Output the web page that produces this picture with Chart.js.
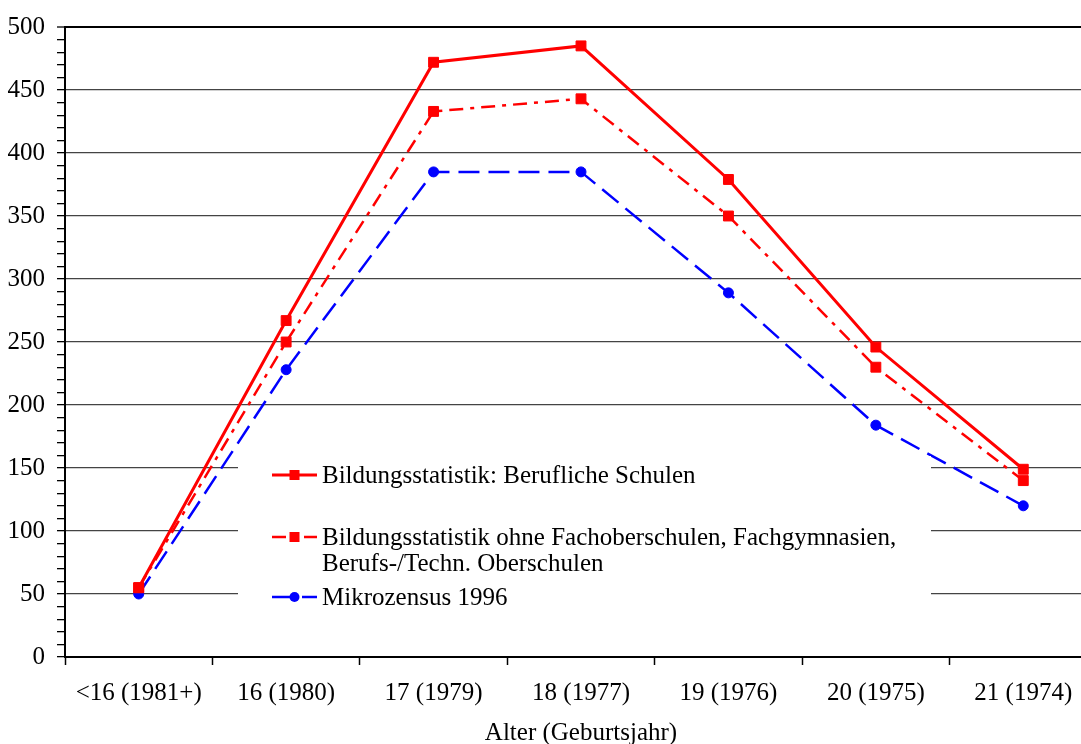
<!DOCTYPE html>
<html>
<head>
<meta charset="utf-8">
<script src="https://cdn.jsdelivr.net/npm/chart.js@4.4.1/dist/chart.umd.min.js"></script>
<style>
    html, body { margin: 0; padding: 0; overflow: hidden; background: #fff; }
    #wrap { width: 1105px; height: 744px; }
</style>
</head>
<body>
<div id="wrap"><canvas id="chart" width="1105" height="744"></canvas></div>
<script>
// Daten
const categories = ['<16 (1981+)', '16 (1980)', '17 (1979)', '18 (1977)', '19 (1976)', '20 (1975)', '21 (1974)'];
const berufSchulen = [55, 267, 472, 485, 379, 246, 149];
const ohneFOS = [55, 250, 433, 443, 350, 230, 140];
const mikrozensus = [50, 228, 385, 385, 289, 184, 120];
const seriesNames = [
    ['Bildungsstatistik: Berufliche Schulen'],
    ['Bildungsstatistik ohne Fachoberschulen, Fachgymnasien,', 'Berufs-/Techn. Oberschulen'],
    ['Mikrozensus 1996']
];
const yTicks = [0, 50, 100, 150, 200, 250, 300, 350, 400, 450, 500];

const FONT = "'Liberation Serif', 'Times New Roman', serif";
Chart.defaults.font.family = FONT;
Chart.defaults.font.size = 25;
Chart.defaults.color = '#000';

// Legende im Diagramm mit weissem Hintergrund
const innerLegend = {
    id: 'innerLegend',
    afterDatasetsDraw(chart) {
        const ctx = chart.ctx;
        ctx.save();
        ctx.fillStyle = '#fff';
        ctx.fillRect(238, 456, 693, 150);
        const rows = [475, 537, 597];
        chart.data.datasets.forEach((ds, i) => {
            const y = rows[i];
            ctx.strokeStyle = ds.borderColor;
            ctx.lineWidth = ds.borderWidth;
            ctx.setLineDash(ds.borderDash || []);
            ctx.beginPath();
            ctx.moveTo(272, y);
            ctx.lineTo(317, y);
            ctx.stroke();
            ctx.setLineDash([]);
            ctx.fillStyle = ds.borderColor;
            ctx.beginPath();
            if (ds.pointStyle === 'rect') {
                ctx.rect(289.5, y - 5, 10, 10);
            } else {
                ctx.arc(294.5, y, 5, 0, Math.PI * 2);
            }
            ctx.fill();
            ctx.fillStyle = '#000';
            ctx.font = '25px ' + FONT;
            ctx.textBaseline = 'middle';
            seriesNames[i].forEach((line, k) => {
                ctx.fillText(line, 322, y + 1 + k * 26);
            });
        });
        ctx.restore();
    }
};

const ctx = document.getElementById('chart').getContext('2d');
new Chart(ctx, {
    type: 'line',
    data: {
        labels: categories,
        datasets: [
            {
                label: seriesNames[0].join(' '),
                data: berufSchulen,
                borderColor: '#ff0000',
                backgroundColor: '#ff0000',
                borderWidth: 3,
                pointStyle: 'rect',
                pointRadius: 7,
                pointBorderWidth: 1
            },
            {
                label: seriesNames[1].join(' '),
                data: ohneFOS,
                borderColor: '#ff0000',
                backgroundColor: '#ff0000',
                borderWidth: 2.5,
                borderDash: [14, 7, 4, 7],
                pointStyle: 'rect',
                pointRadius: 7,
                pointBorderWidth: 1
            },
            {
                label: seriesNames[2].join(' '),
                data: mikrozensus,
                borderColor: '#0000ff',
                backgroundColor: '#0000ff',
                borderWidth: 2.5,
                borderDash: [21, 9],
                pointStyle: 'circle',
                pointRadius: 5,
                pointBorderWidth: 1
            }
        ]
    },
    options: {
        responsive: false,
        animation: false,
        layout: { padding: { top: 24, right: 0, left: 0, bottom: 0 } },
        plugins: {
            legend: { display: false },
            tooltip: { enabled: false }
        },
        scales: {
            x: {
                offset: true,
                grid: {
                    offset: true,
                    drawOnChartArea: false,
                    drawTicks: true,
                    tickLength: 8,
                    tickColor: '#000',
                    tickWidth: 1.5
                },
                border: { color: '#000', width: 2 },
                ticks: { padding: 13, maxRotation: 0, autoSkip: false, font: { size: 25 } },
                title: {
                    display: true,
                    text: 'Alter (Geburtsjahr)',
                    font: { size: 25, lineHeight: 1 },
                    padding: { top: 9, bottom: -2 }
                },
                afterFit(scale) { scale.height = 87; }
            },
            y: {
                min: 0,
                max: 500,
                grid: {
                    color: c => {
                        const v = c.tick.value;
                        if (v % 50 !== 0) return 'rgba(0,0,0,0)';
                        return v === 500 ? '#000' : '#444';
                    },
                    lineWidth: c => (c.tick.value === 500 ? 2 : 1.3),
                    tickColor: '#000',
                    tickLength: 8,
                    tickWidth: 1.3
                },
                border: { color: '#000', width: 2 },
                ticks: {
                    stepSize: 10,
                    autoSkip: false,
                    padding: 12,
                    font: { size: 25 },
                    callback: v => (yTicks.includes(v) ? String(v) : '')
                },
                afterFit(scale) { scale.width = 65; }
            }
        }
    },
    plugins: [innerLegend]
});
</script>
</body>
</html>
